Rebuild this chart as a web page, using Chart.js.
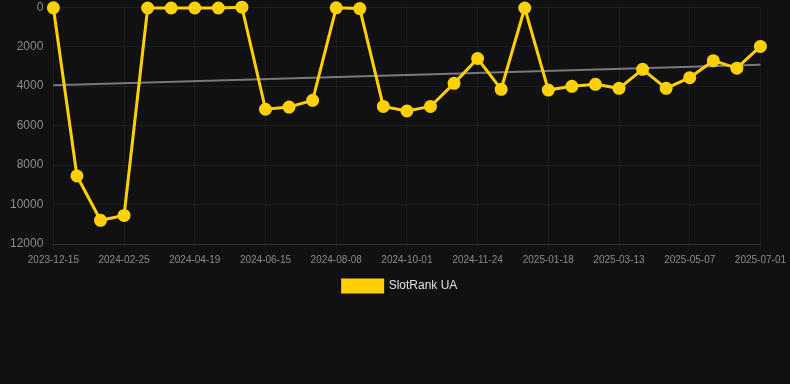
<!DOCTYPE html>
<html>
<head>
<meta charset="utf-8">
<script src="https://cdn.jsdelivr.net/npm/chart.js@4.4.1/dist/chart.umd.min.js"></script>
<style>
    html, body { margin: 0; padding: 0; background: #111111; }
    #wrap { width: 790px; height: 302px; position: relative; }
</style>
</head>
<body>
<div id="wrap"><canvas id="rankChart"></canvas></div>
<script>
    // dates on the x axis (every third one is labelled in the picture)
    var dates = [
        '2023-12-15', '2024-01-08', '2024-02-01',
        '2024-02-25', '2024-03-13', '2024-04-01',
        '2024-04-19', '2024-05-08', '2024-05-27',
        '2024-06-15', '2024-07-03', '2024-07-21',
        '2024-08-08', '2024-08-26', '2024-09-13',
        '2024-10-01', '2024-10-19', '2024-11-06',
        '2024-11-24', '2024-12-12', '2024-12-30',
        '2025-01-18', '2025-02-05', '2025-02-23',
        '2025-03-13', '2025-03-31', '2025-04-18',
        '2025-05-07', '2025-05-25', '2025-06-12',
        '2025-07-01'
    ];

    // rank values
    var slotRank = [
        30, 8550, 10800, 10550, 40, 40, 40, 40, 0,
        5170, 5060, 4720, 30, 70, 5030, 5260, 5030,
        3860, 2600, 4160, 40, 4200, 4010, 3910, 4110,
        3150, 4110, 3570, 2710, 3090, 1990
    ];

    var trendEnds = [3950, 2920];

    var trend = dates.map(function (d, i) {
        if (i === 0) return trendEnds[0];
        if (i === dates.length - 1) return trendEnds[1];
        return null;
    });

    var yTicks = { min: 0, max: 12000, step: 2000 };

    Chart.defaults.font.family = 'Helvetica, Arial, "Liberation Sans", sans-serif';

    var ctx = document.getElementById('rankChart').getContext('2d');
    var chart = new Chart(ctx, {
        type: 'line',
        data: {
            labels: dates,
            datasets: [{
                label: 'SlotRank UA',
                data: slotRank,
                borderColor: '#FFD100',
                backgroundColor: '#FFD100',
                borderWidth: 3,
                pointRadius: 5,
                pointHoverRadius: 5,
                pointBackgroundColor: '#FFD100',
                pointBorderColor: '#FFD100',
                tension: 0,
                clip: false,
                order: 1
            }, {
                label: 'trend',
                data: trend,
                spanGaps: true,
                borderColor: 'rgba(140,140,140,0.85)',
                borderWidth: 2,
                pointRadius: 0,
                pointHoverRadius: 0,
                fill: false,
                order: 2
            }]
        },
        options: {
            responsive: true,
            maintainAspectRatio: false,
            animation: false,
            layout: { autoPadding: false, padding: { left: 10, right: 0, top: -1, bottom: 0 } },
            scales: {
                x: {
                    grid: {
                        color: 'rgba(255,255,255,0.045)',
                        tickLength: 6
                    },
                    border: { color: 'rgba(255,255,255,0.1)' },
                    ticks: {
                        color: '#8a8a8a',
                        font: { size: 10 },
                        maxRotation: 0,
                        autoSkip: true,
                        maxTicksLimit: 11,
                        padding: 4
                    }
                },
                y: {
                    reverse: true,
                    min: yTicks.min,
                    max: yTicks.max,
                    grid: {
                        color: 'rgba(255,255,255,0.05)',
                        tickColor: 'transparent',
                        tickLength: 10
                    },
                    border: { display: false },
                    ticks: {
                        stepSize: yTicks.step,
                        color: '#8a8a8a',
                        font: { size: 12 },
                        padding: 0,
                        callback: function (value) {
                            return String(value);
                        }
                    }
                }
            },
            plugins: {
                legend: {
                    position: 'bottom',
                    labels: {
                        color: '#e0e0e0',
                        font: { size: 12 },
                        boxWidth: 40,
                        boxHeight: 12,
                        filter: function (item) {
                            return item.text !== 'trend';
                        }
                    }
                },
                tooltip: { enabled: false }
            }
        }
    });
</script>
</body>
</html>
